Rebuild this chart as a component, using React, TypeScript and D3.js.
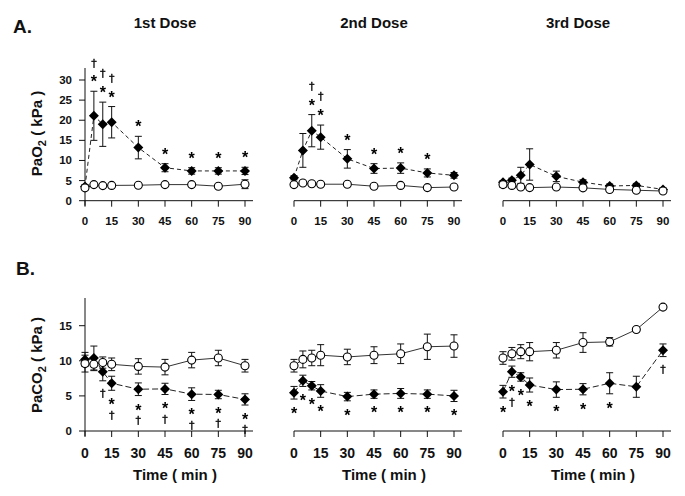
import React from "react";
import * as d3 from "d3";

// ---------- data ----------
const times = [0, 5, 10, 15, 30, 45, 60, 75, 90];
const xTicks = [0, 15, 30, 45, 60, 75, 90];
const doseTitles = ["1st Dose", "2nd Dose", "3rd Dose"];
const pao2Ticks = [0, 5, 10, 15, 20, 25, 30];
const paco2Ticks = [0, 5, 10, 15];

// PaO2 (kPa) – filled diamonds / open circles, mean and SE
const pao2Filled1 = [3.5, 21.1, 19.0, 19.5, 13.2, 8.2, 7.4, 7.4, 7.4];
const pao2FilledErr1 = [0.5, 6.1, 5.5, 3.9, 2.8, 1.0, 0.8, 0.8, 0.9];
const pao2Open1 = [3.2, 4.0, 3.75, 3.8, 3.85, 4.0, 4.0, 3.6, 4.1];
const pao2OpenErr1 = [0.5, 0.4, 0.3, 0.3, 0.3, 0.3, 0.4, 0.4, 1.1];
const pao2Marks1 = ["", "*†", "*†", "*†", "*", "*", "*", "*", "*"];

const pao2Filled2 = [5.7, 12.5, 17.4, 15.8, 10.4, 8.0, 8.1, 6.9, 6.3];
const pao2FilledErr2 = [0.5, 4.2, 4.0, 3.0, 2.3, 1.2, 1.3, 1.0, 0.7];
const pao2Open2 = [4.0, 4.4, 4.2, 4.1, 4.1, 3.6, 3.8, 3.25, 3.4];
const pao2OpenErr2 = [0.4, 0.3, 0.3, 0.3, 0.3, 0.3, 0.3, 0.3, 0.3];
const pao2Marks2 = ["", "", "*†", "*†", "*", "*", "*", "*", ""];

const pao2Filled3 = [4.6, 5.1, 6.3, 9.0, 6.05, 4.6, 3.65, 3.8, 2.8];
const pao2FilledErr3 = [0.4, 0.5, 2.0, 3.9, 1.3, 0.6, 0.5, 0.5, 0.4];
const pao2Open3 = [4.0, 3.8, 3.4, 3.25, 3.4, 3.2, 2.8, 2.6, 2.4];
const pao2OpenErr3 = [0.7, 0.4, 0.3, 0.3, 0.3, 0.3, 0.3, 0.3, 0.3];
const pao2Marks3 = ["", "", "", "", "", "", "", "", ""];

// PaCO2 (kPa)
const paco2Filled1 = [10.2, 10.4, 8.45, 6.8, 5.95, 6.0, 5.25, 5.2, 4.5];
const paco2FilledErr1 = [1.0, 1.7, 1.3, 1.0, 0.9, 0.8, 0.9, 0.6, 0.8];
const paco2Open1 = [9.6, 9.5, 9.75, 9.5, 9.2, 9.1, 10.1, 10.4, 9.3];
const paco2OpenErr1 = [1.2, 0.9, 0.8, 0.9, 1.1, 1.1, 1.1, 1.1, 0.9];
const paco2Marks1 = ["", "", "†", "*†", "*†", "*†", "*†", "*†", "*†"];

const paco2Filled2 = [5.45, 7.15, 6.45, 5.7, 4.9, 5.25, 5.35, 5.25, 5.0];
const paco2FilledErr2 = [0.9, 0.8, 0.6, 0.9, 0.6, 0.6, 0.7, 0.6, 0.8];
const paco2Open2 = [9.3, 10.2, 10.4, 10.8, 10.55, 10.8, 11.0, 12.0, 12.1];
const paco2OpenErr2 = [0.9, 1.2, 1.1, 1.5, 1.1, 1.2, 1.4, 1.8, 1.6];
const paco2Marks2 = ["*", "*", "*", "*", "*", "*", "*", "*", "*"];

const paco2Filled3 = [5.6, 8.45, 7.7, 6.55, 5.9, 5.95, 6.8, 6.3, 11.5];
const paco2FilledErr3 = [0.9, 0.8, 0.6, 1.0, 1.1, 0.8, 1.5, 1.5, 0.9];
const paco2Open3 = [10.4, 11.0, 11.3, 11.3, 11.5, 12.6, 12.7, 14.45, 17.65];
const paco2OpenErr3 = [0.9, 0.9, 1.0, 1.3, 1.1, 1.4, 0.6, 0.3, 0.3];
const paco2Marks3 = ["*", "*†", "*", "*", "*", "*", "*", "", "†"];

// ---------- layout ----------
const W = 685;
const H = 496;
const FONT = "'Liberation Sans', Arial, Helvetica, sans-serif";
const DAGFONT = "'DejaVu Sans', 'Liberation Sans', sans-serif";
const panelX0 = [85, 294, 503];
const panelW = 160;

const rowA = {
  y: d3.scaleLinear().domain([0, 30]).range([200.7, 80]),
  axisTop: 68,
  yTicks: pao2Ticks,
  xLabelBaseline: 224.5,
  xLabelSize: 11.5,
  marksAbove: true,
  dash: "4,3",
  series: [
    { f: pao2Filled1, fe: pao2FilledErr1, o: pao2Open1, oe: pao2OpenErr1, m: pao2Marks1 },
    { f: pao2Filled2, fe: pao2FilledErr2, o: pao2Open2, oe: pao2OpenErr2, m: pao2Marks2 },
    { f: pao2Filled3, fe: pao2FilledErr3, o: pao2Open3, oe: pao2OpenErr3, m: pao2Marks3 },
  ],
};
const rowB = {
  y: d3.scaleLinear().domain([0, 15]).range([431, 325.7]),
  axisTop: 298,
  yTicks: paco2Ticks,
  xLabelBaseline: 457.5,
  xLabelSize: 14,
  marksAbove: false,
  dash: "6,3",
  series: [
    { f: paco2Filled1, fe: paco2FilledErr1, o: paco2Open1, oe: paco2OpenErr1, m: paco2Marks1 },
    { f: paco2Filled2, fe: paco2FilledErr2, o: paco2Open2, oe: paco2OpenErr2, m: paco2Marks2 },
    { f: paco2Filled3, fe: paco2FilledErr3, o: paco2Open3, oe: paco2OpenErr3, m: paco2Marks3 },
  ],
};

const STAR = 16;
const DAG = 11;

function diamond(cx: number, cy: number, r: number) {
  return `M${cx},${cy - r}L${cx + r},${cy}L${cx},${cy + r}L${cx - r},${cy}Z`;
}

function ErrBars({ x, y, vals, errs }: any) {
  return (
    <g stroke="#111" strokeWidth={1}>
      {vals.map((v: number, i: number) => {
        const cx = x(times[i]);
        const t = y(v + errs[i]);
        const b = y(v - errs[i]);
        return (
          <g key={i}>
            <line x1={cx} x2={cx} y1={t} y2={b} />
            <line x1={cx - 3.5} x2={cx + 3.5} y1={t} y2={t} />
            <line x1={cx - 3.5} x2={cx + 3.5} y1={b} y2={b} />
          </g>
        );
      })}
    </g>
  );
}

// one text element per annotation: star and/or dagger as stacked tspans
function Mark({ x, starCy, dagCy, hasStar, hasDag }: any) {
  return (
    <text textAnchor="middle" fill="#000">
      {hasStar && (
        <tspan x={x} y={starCy + STAR * 0.56} fontSize={STAR} fontWeight="bold" fontFamily={FONT}>
          *
        </tspan>
      )}
      {hasDag && (
        <tspan x={x} y={dagCy + DAG * 0.3} fontSize={DAG} fontFamily={DAGFONT} stroke="#000" strokeWidth={0.3}>
          †
        </tspan>
      )}
    </text>
  );
}

function Panel({ row, idx }: any) {
  const x0 = panelX0[idx];
  const x = d3.scaleLinear().domain([0, 90]).range([x0, x0 + panelW]);
  const y = row.y;
  const s = row.series[idx];
  const axisY = y(0);
  const line = d3
    .line<number>()
    .x((_, i) => x(times[i]))
    .y((d) => y(d));

  const marks: any[] = [];
  s.m.forEach((m: string, i: number) => {
    if (!m) return;
    const cx = x(times[i]);
    const hasStar = m.includes("*");
    const hasDag = m.includes("†");
    let starCy: number, dagCy: number;
    if (row.marksAbove) {
      const edge = y(s.f[i] + s.fe[i]);
      starCy = edge - 13;
      dagCy = hasStar ? starCy - 15 : starCy;
    } else {
      const edge = y(s.f[i] - s.fe[i]);
      starCy = edge + 11;
      dagCy = hasStar ? starCy + 14 : edge + 13;
    }
    marks.push(<Mark key={i} x={cx} starCy={starCy} dagCy={dagCy} hasStar={hasStar} hasDag={hasDag} />);
  });

  return (
    <g>
      <g stroke="#111" strokeWidth={1} fill="none">
        <line x1={x0} x2={x0 + panelW + 8} y1={axisY} y2={axisY} />
        {xTicks.map((t) => (
          <line key={t} x1={x(t)} x2={x(t)} y1={axisY} y2={axisY + 6} />
        ))}
        {idx === 0 && (
          <>
            <line x1={x0} x2={x0} y1={row.axisTop} y2={axisY + 5} />
            {row.yTicks.map((t: number) => (
              <line key={t} x1={x0 - 6} x2={x0} y1={y(t)} y2={y(t)} />
            ))}
          </>
        )}
      </g>
      <g fontFamily={FONT} fontWeight="bold" fill="#111">
        {xTicks.map((t) => (
          <text key={t} x={x(t)} y={row.xLabelBaseline} fontSize={row.xLabelSize} textAnchor="middle">
            {t}
          </text>
        ))}
        {idx === 0 &&
          row.yTicks.map((t: number) => (
            <text key={t} x={x0 - 13} y={y(t) + 4} fontSize={11.5} textAnchor="end">
              {t}
            </text>
          ))}
      </g>
      <path d={line(s.o) || ""} fill="none" stroke="#333" strokeWidth={1} />
      <path d={line(s.f) || ""} fill="none" stroke="#222" strokeWidth={1} strokeDasharray={row.dash} />
      <ErrBars x={x} y={y} vals={s.o} errs={s.oe} />
      <ErrBars x={x} y={y} vals={s.f} errs={s.fe} />
      {s.f.map((v: number, i: number) => (
        <path key={i} d={diamond(x(times[i]), y(v), 5)} fill="#000" />
      ))}
      {s.o.map((v: number, i: number) => (
        <circle key={i} cx={x(times[i])} cy={y(v)} r={4} fill="#fff" stroke="#000" strokeWidth={1.1} />
      ))}
      <g filter="url(#gray)">{marks}</g>
    </g>
  );
}

export default function App() {
  return (
    <svg
      width={W}
      height={H}
      viewBox={`0 0 ${W} ${H}`}
      style={{ position: "fixed", left: 0, top: 0, background: "#fff" }}
    >
      <defs>
        <filter id="gray" x="-50%" y="-50%" width="200%" height="200%">
          <feOffset dx={0} dy={0} />
        </filter>
      </defs>
      <rect width={W} height={H} fill="#fff" />
      <g fontFamily={FONT} fontWeight="bold" fill="#111">
        <text x={13} y={33} fontSize={19}>A.</text>
        <text x={16} y={275} fontSize={19}>B.</text>
        {doseTitles.map((t, i) => (
          <text key={t} x={panelX0[i] + panelW / 2 + (i === 2 ? -5 : 0)} y={27.5} fontSize={15} textAnchor="middle">
            {t}
          </text>
        ))}
        {panelX0.map((x0, i) => (
          <text key={i} x={x0 + panelW / 2 + 10} y={479.5} fontSize={15} textAnchor="middle">
            Time ( min )
          </text>
        ))}
        <text transform="translate(41.5,133.5) rotate(-90)" fontSize={15} textAnchor="middle">
          PaO<tspan fontSize={11} dy={4}>2</tspan>
          <tspan dy={-4}> ( kPa )</tspan>
        </text>
        <text transform="translate(41.5,365) rotate(-90)" fontSize={15} textAnchor="middle">
          PaCO<tspan fontSize={11} dy={4}>2</tspan>
          <tspan dy={-4}> ( kPa )</tspan>
        </text>
      </g>
      {[0, 1, 2].map((i) => (
        <Panel key={"a" + i} row={rowA} idx={i} />
      ))}
      {[0, 1, 2].map((i) => (
        <Panel key={"b" + i} row={rowB} idx={i} />
      ))}
    </svg>
  );
}
